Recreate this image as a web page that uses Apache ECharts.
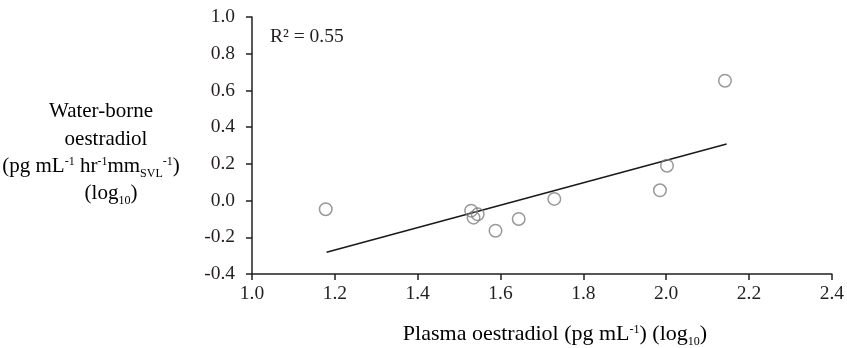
<!DOCTYPE html>
<html>
<head>
<meta charset="utf-8">
<script src="https://cdn.jsdelivr.net/npm/echarts@6/dist/echarts.min.js"></script>
<style>
  html, body { margin: 0; padding: 0; background: #fff; }
  #chart { width: 847px; height: 348px; }
</style>
</head>
<body>
<div id="chart"></div>
<script>
// plasma oestradiol (log10) vs water-borne oestradiol (log10)
const plasma = [1.178, 1.529, 1.535, 1.545, 1.588, 1.644, 1.730, 1.985, 2.002, 2.142];
const waterBorne = [-0.047, -0.055, -0.093, -0.075, -0.164, -0.100, 0.009, 0.056, 0.190, 0.653];
// regression line end points
const trendX = [1.18, 2.146];
const trendY = [-0.282, 0.308];
const xTicks = { min: 1.0, max: 2.4, interval: 0.2 };
const yTicks = { min: -0.4, max: 1.0, interval: 0.2 };

const FONT = '"Liberation Serif", "Times New Roman", serif';
const TEXT_COLOR = '#231f20';

let chart = echarts.init(document.getElementById('chart'));

function richStyles(size) {
    return {
        n: { fontSize: size, fontFamily: FONT, color: TEXT_COLOR, lineHeight: 24 },
        sup: { fontSize: 12, fontFamily: FONT, color: TEXT_COLOR, verticalAlign: 'top', lineHeight: 24, padding: [2, 0, 0, 0] },
        sub: { fontSize: 12, fontFamily: FONT, color: TEXT_COLOR, verticalAlign: 'bottom', lineHeight: 24, padding: [0, 0, -2, 0] }
    };
}

function titleLine(x, y, text, size) {
    return {
        type: 'text',
        x: x,
        y: y,
        style: {
            text: text,
            textAlign: 'center',
            textVerticalAlign: 'middle',
            rich: richStyles(size || 21)
        }
    };
}

let option = {
    animation: false,
    backgroundColor: '#fff',
    grid: { left: 252, right: 15, top: 17, bottom: 74 },
    xAxis: {
        type: 'value',
        min: xTicks.min,
        max: xTicks.max,
        interval: xTicks.interval,
        axisLine: { onZero: false, lineStyle: { color: TEXT_COLOR, width: 1.5 } },
        axisTick: { show: true, inside: false, length: 6, lineStyle: { color: TEXT_COLOR, width: 1.5 } },
        splitLine: { show: false },
        axisLabel: {
            margin: 10,
            fontSize: 19.5,
            fontFamily: FONT,
            color: TEXT_COLOR,
            formatter: function (v) { return v.toFixed(1); }
        }
    },
    yAxis: {
        type: 'value',
        min: yTicks.min,
        max: yTicks.max,
        interval: yTicks.interval,
        axisLine: { show: true, onZero: false, lineStyle: { color: TEXT_COLOR, width: 1.5 } },
        axisTick: { show: true, inside: false, length: 6, lineStyle: { color: TEXT_COLOR, width: 1.5 } },
        splitLine: { show: false },
        axisLabel: {
            margin: 17,
            fontSize: 19.5,
            fontFamily: FONT,
            color: TEXT_COLOR,
            formatter: function (v) { return v.toFixed(1); }
        }
    },
    graphic: [
        {
            type: 'text',
            x: 270,
            y: 37,
            style: {
                text: 'R² = 0.55',
                fontSize: 19.5,
                fontFamily: FONT,
                fill: TEXT_COLOR,
                textVerticalAlign: 'middle'
            }
        },
        titleLine(101, 111, '{n|Water-borne}'),
        titleLine(106, 139, '{n|oestradiol}'),
        titleLine(91, 166, '{n|(pg mL}{sup|-1}{n| hr}{sup|-1}{n|mm}{sub|SVL}{sup|-1}{n|)}'),
        titleLine(111, 193, '{n|(log}{sub|10}{n|)}'),
        titleLine(555, 334, '{n|Plasma oestradiol (pg mL}{sup|-1}{n|) (log}{sub|10}{n|)}', 22)
    ],
    series: [
        {
            type: 'line',
            data: trendX.map(function (x, i) { return [x, trendY[i]]; }),
            symbol: 'none',
            lineStyle: { color: '#1a1a1a', width: 1.6 },
            z: 2
        },
        {
            type: 'scatter',
            data: plasma.map(function (x, i) { return [x, waterBorne[i]]; }),
            symbol: 'circle',
            symbolSize: 12.5,
            itemStyle: { color: 'rgba(0,0,0,0)', borderColor: '#7f7f7f', borderWidth: 1.5 },
            z: 3
        }
    ]
};

chart.setOption(option);

window.addEventListener('resize', function () {
    chart.resize();
});
</script>
</body>
</html>
